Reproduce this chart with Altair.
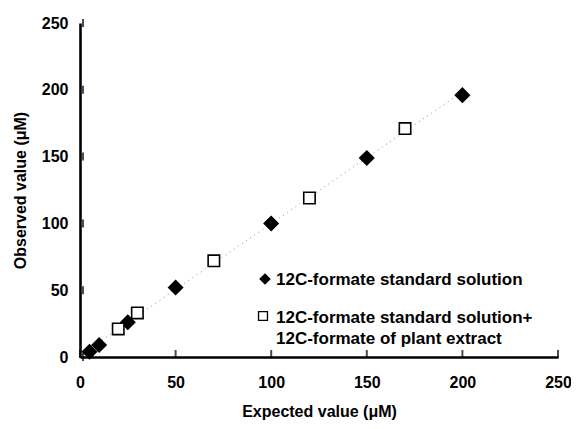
import altair as alt
import pandas as pd

std_x = [5, 10, 25, 50, 100, 150, 200]
std_y = [4, 9, 26, 52, 100, 149, 196]
mix_x = [20, 30, 70, 120, 170]
mix_y = [21, 33, 72, 119, 171]
series_names = ["12C-formate standard solution",
                "12C-formate standard solution+|12C-formate of plant extract"]
tick_values = [0, 50, 100, 150, 200, 250]

df = pd.DataFrame({
    "x": std_x + mix_x,
    "y": std_y + mix_y,
    "series": [series_names[0]] * len(std_x) + [series_names[1]] * len(mix_x),
})
ticks = pd.DataFrame({"v": tick_values})

FONT = "Liberation Sans"
xscale = alt.Scale(domain=[0, 250], nice=False)
yscale = alt.Scale(domain=[0, 250], nice=False)
shape_scale = alt.Scale(domain=series_names, range=["diamond", "square"])
fill_scale = alt.Scale(domain=series_names, range=["black", "white"])

base = alt.Chart(df)

fit = base.transform_regression("x", "y").mark_line(
    color="#8a8a8a", strokeDash=[1, 4], strokeWidth=1
).encode(
    x=alt.X("x:Q", scale=xscale),
    y=alt.Y("y:Q", scale=yscale),
)

points = base.mark_point(filled=False, opacity=1, strokeWidth=1.6).encode(
    x=alt.X("x:Q", scale=xscale,
            axis=alt.Axis(title="Expected value (\u03bcM)", values=tick_values,
                          grid=False, ticks=False, labelPadding=17, labelFlush=False,
                          titlePadding=13)),
    y=alt.Y("y:Q", scale=yscale,
            axis=alt.Axis(title="Observed value (\u03bcM)", values=tick_values,
                          grid=False, ticks=False, labelPadding=12, labelFlush=False,
                          titlePadding=13)),
    shape=alt.Shape("series:N", scale=shape_scale, legend=None),
    fill=alt.Fill("series:N", scale=fill_scale, legend=None),
    size=alt.Size("series:N",
                  scale=alt.Scale(domain=series_names, range=[190, 130]),
                  legend=None),
    stroke=alt.value("black"),
)

xticks = alt.Chart(ticks).mark_tick(color="black", thickness=2, size=8, yOffset=-3).encode(
    x=alt.X("v:Q", scale=xscale), y=alt.datum(0, scale=yscale)
)
yticks = alt.Chart(ticks).mark_tick(color="black", thickness=2, size=8, xOffset=3).encode(
    y=alt.Y("v:Q", scale=yscale), x=alt.datum(0, scale=xscale)
)

# manual legend inside the plot
leg1 = pd.DataFrame({"series": [series_names[0]]})
leg2 = pd.DataFrame({"series": [series_names[1]]})


def legend_entry(d, sx, sy, ty, size):
    sym = alt.Chart(d).mark_point(filled=False, opacity=1, strokeWidth=1.3, size=size).encode(
        x=alt.value(sx), y=alt.value(sy),
        shape=alt.Shape("series:N", scale=shape_scale, legend=None),
        fill=alt.Fill("series:N", scale=fill_scale, legend=None),
        stroke=alt.value("black"),
    )
    txt = alt.Chart(d).mark_text(
        align="left", baseline="middle", font=FONT, fontSize=17, fontWeight="bold",
        color="black", lineBreak="|", lineHeight=21.5,
    ).encode(x=alt.value(196), y=alt.value(ty), text="series:N")
    return sym + txt


legend_a = legend_entry(leg1, 185, 256, 257, 95)
legend_b = legend_entry(leg2, 183, 293, 294.5, 80)

chart = alt.layer(fit, points, xticks, yticks, legend_a, legend_b).properties(
    width=478, height=334, background="white",
    autosize=alt.AutoSizeParams(type="none"),
    padding={"left": 72, "top": 15, "right": 13, "bottom": 64},
).configure_view(stroke=None).configure_axis(
    domainColor="black", domainWidth=2.6,
    labelFont=FONT, labelFontSize=16, labelFontWeight="bold", labelColor="black",
    titleFont=FONT, titleFontSize=16, titleFontWeight="bold", titleColor="black",
)

chart.save("out.html", embed_options={"renderer": "svg", "actions": False})
